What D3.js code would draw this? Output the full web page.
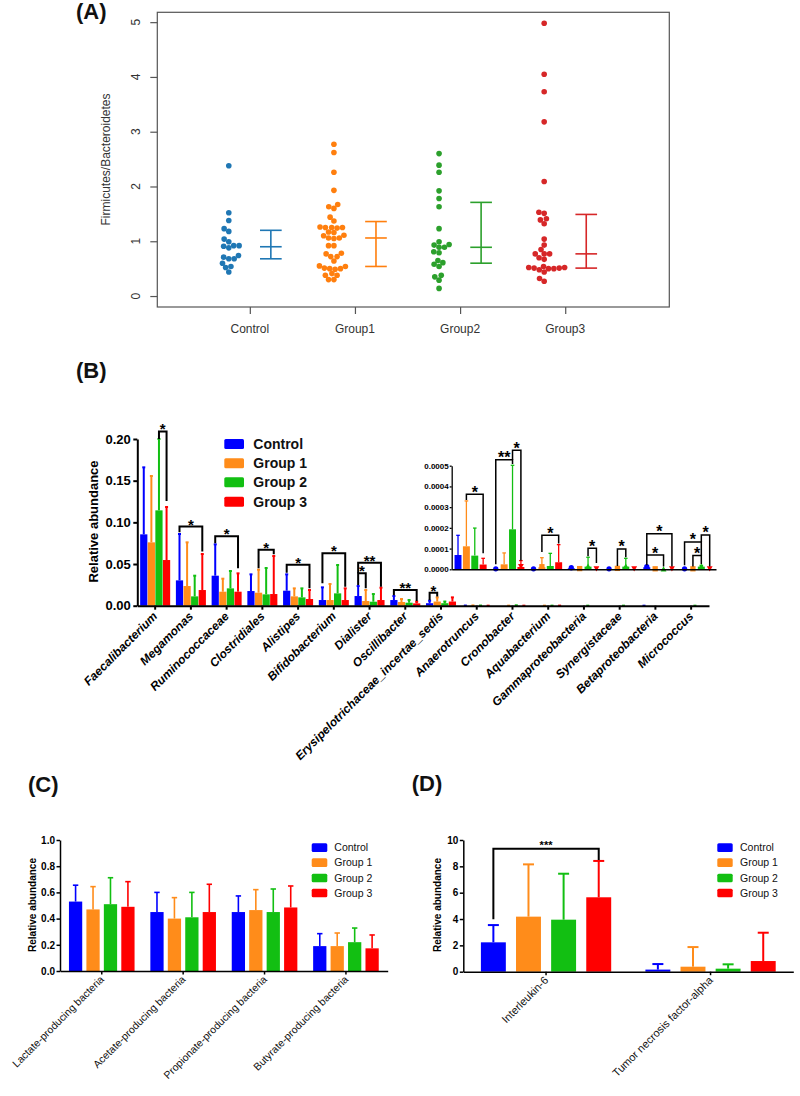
<!DOCTYPE html>
<html><head><meta charset="utf-8">
<script src="https://cdn.jsdelivr.net/npm/d3@7"></script>
<style>
body{margin:0;background:#fff}
svg{display:block}
text{font-family:Arial,"Liberation Sans",Helvetica,sans-serif}
</style>
</head><body>
<svg id="chart" width="800" height="1096"></svg>
<script>
// ================= DATA =================
// Panel A
const groupsA = ["Control", "Group1", "Group2", "Group3"];
const ratioControl = [2.38, 1.52, 1.38, 1.23, 1.18, 1.04, 0.99, 0.92, 0.91, 0.88, 0.92, 0.74, 0.71, 0.68, 0.68, 0.60, 0.54, 0.52, 0.44];
const ratioGroup1 = [2.77, 2.62, 2.26, 1.93, 1.67, 1.63, 1.60, 1.44, 1.37, 1.26, 1.25, 1.25, 1.24, 1.25, 1.17, 1.16, 1.11, 1.10, 1.06, 1.06, 1.05, 0.92, 0.92, 0.78, 0.77, 0.72, 0.72, 0.64, 0.55, 0.54, 0.51, 0.50, 0.50, 0.49, 0.41, 0.38, 0.38, 0.30, 0.30];
const ratioGroup2 = [2.60, 2.39, 2.26, 1.92, 1.78, 1.63, 1.23, 0.99, 0.94, 0.93, 0.89, 0.89, 0.81, 0.79, 0.65, 0.61, 0.58, 0.54, 0.38, 0.35, 0.29, 0.14];
const ratioGroup3 = [4.98, 4.05, 3.73, 3.18, 2.09, 1.53, 1.51, 1.41, 1.39, 1.32, 1.04, 0.93, 0.85, 0.77, 0.77, 0.77, 0.70, 0.67, 0.54, 0.52, 0.51, 0.50, 0.50, 0.51, 0.52, 0.48, 0.44, 0.32, 0.27];
const summaryLow = [0.68, 0.54, 0.60, 0.51];
const summaryMid = [0.90, 1.06, 0.89, 0.77];
const summaryHigh = [1.20, 1.36, 1.71, 1.49];
const ticksA = [0, 1, 2, 3, 4, 5];

// Panel B
const seriesNames = ["Control", "Group 1", "Group 2", "Group 3"];
const taxa = ["Faecalibacterium", "Megamonas", "Ruminococcaceae", "Clostridiales", "Alistipes", "Bifidobacterium", "Dialister", "Oscillibacter", "Erysipelotrichaceae_incertae_sedis", "Anaerotruncus", "Cronobacter", "Aquabacterium", "Gammaproteobacteria", "Synergistaceae", "Betaproteobacteria", "Micrococcus"];
const insetTaxa = ["Anaerotruncus", "Cronobacter", "Aquabacterium", "Gammaproteobacteria", "Synergistaceae", "Betaproteobacteria", "Micrococcus"];
const meanControl = [0.0856, 0.0304, 0.036, 0.0176, 0.018, 0.0068, 0.0116, 0.0068, 0.003, 0.000069, 0, 0, 0.000005, 0, 0.00001, 0];
const meanGroup1  = [0.076, 0.0236, 0.0168, 0.0156, 0.0112, 0.0068, 0.0056, 0.0044, 0.005, 0.000111, 0.000024, 0.00001, 0.000001, 0.000002, 0, 0];
const meanGroup2  = [0.1144, 0.0112, 0.0208, 0.0136, 0.010, 0.0148, 0.0048, 0.0036, 0.003, 0.000066, 0.000193, 0.000016, 0.000013, 0.000013, 0, 0.000013];
const meanGroup3  = [0.0548, 0.0188, 0.0168, 0.014, 0.008, 0.0068, 0.0068, 0.0028, 0.005, 0.000023, 0.000011, 0.000034, 0, 0, 0, 0];
const upperControl = [0.166, 0.086, 0.0736, 0.0376, 0.0376, 0.022, 0.0236, 0.0116, 0.006, 0.000164, 0, 0, 0.000005, 0, 0.000015, 0];
const upperGroup1  = [0.1556, 0.076, 0.0324, 0.0432, 0.0208, 0.026, 0.0188, 0.008, 0.010, 0.00033, 0.000079, 0.000056, 0.000001, 0.000002, 0, 0];
const upperGroup2  = [0.200, 0.036, 0.0416, 0.0452, 0.0208, 0.0488, 0.014, 0.0068, 0.005, 0.000199, 0.000502, 0.000077, 0.000058, 0.000053, 0, 0.000019];
const upperGroup3  = [0.1184, 0.062, 0.0388, 0.0596, 0.0188, 0.0208, 0.0216, 0.0048, 0.010, 0.000053, 0.000042, 0.000119, 0, 0, 0, 0];
const ticksBMain = [0, 0.05, 0.10, 0.15, 0.20];
const ticksBInset = [0, 0.0001, 0.0002, 0.0003, 0.0004, 0.0005];
// significance brackets: taxon, from-series, to-series, bracket top, left leg end, right leg end, label
const bracketsMain = [
  ["Faecalibacterium", 2, 3, 0.209, 0.200, 0.1256, "*"],
  ["Megamonas", 0, 3, 0.095, 0.088, 0.065, "*"],
  ["Ruminococcaceae", 0, 3, 0.0832, 0.075, 0.0448, "*"],
  ["Clostridiales", 1, 3, 0.0672, 0.0448, 0.0616, "*"],
  ["Alistipes", 0, 3, 0.0492, 0.0396, 0.0208, "*"],
  ["Bifidobacterium", 0, 3, 0.0628, 0.0268, 0.0228, "*"],
  ["Dialister", 0, 1, 0.0388, 0.0248, 0.0208, "*"],
  ["Dialister", 0, 3, 0.0516, 0.0388, 0.0228, "**"],
  ["Oscillibacter", 0, 3, 0.0188, 0.0124, 0.0056, "**"],
  ["Erysipelotrichaceae_incertae_sedis", 0, 1, 0.0156, 0.0068, 0.011, "*"]
];
const bracketsInset = [
  ["Anaerotruncus", 1, 3, 0.000362, 0.000335, 0.000078, "*"],
  ["Cronobacter", 0, 2, 0.000529, 0.000024, 0.000508, "**"],
  ["Cronobacter", 2, 3, 0.000574, 0.000529, 0.000043, "*"],
  ["Aquabacterium", 1, 3, 0.000164, 0.000084, 0.000124, "*"],
  ["Gammaproteobacteria", 2, 3, 0.000102, 0.000063, 0.00003, "*"],
  ["Synergistaceae", 1, 2, 0.000098, 0.000016, 0.000058, "*"],
  ["Betaproteobacteria", 0, 2, 0.000069, 0.00002, 0.000013, "*"],
  ["Betaproteobacteria", 0, 3, 0.000171, 0.000069, 0.000013, "*"],
  ["Micrococcus", 1, 2, 0.000066, 0.000013, 0.000025, "*"],
  ["Micrococcus", 0, 2, 0.000132, 0.00002, 0.000066, "*"],
  ["Micrococcus", 2, 3, 0.000166, 0.000132, 0.000013, "*"]
];

// Panel C
const producers = ["Lactate-producing bacteria", "Acetate-producing bacteria", "Propionate-producing bacteria", "Butyrate-producing bacteria"];
const prodMean = [
  [0.53, 0.45, 0.45, 0.19],
  [0.47, 0.40, 0.465, 0.19],
  [0.51, 0.41, 0.45, 0.22],
  [0.49, 0.45, 0.485, 0.173]
];
const prodUpper = [
  [0.655, 0.60, 0.573, 0.285],
  [0.644, 0.56, 0.621, 0.29],
  [0.712, 0.60, 0.626, 0.328],
  [0.682, 0.662, 0.649, 0.275]
];
const ticksC = [0, 0.2, 0.4, 0.6, 0.8, 1.0];

// Panel D
const cytokines = ["Interleukin-6", "Tumor necrosis factor-alpha"];
const cytoMean = [[2.23, 0.16], [4.18, 0.38], [3.95, 0.23], [5.65, 0.81]];
const cytoUpper = [[3.54, 0.58], [8.15, 1.87], [7.44, 0.56], [8.41, 2.96]];
const ticksD = [0, 2, 4, 6, 8, 10];
const bracketD = ["Interleukin-6", 0, 3, 9.34, 3.98, 8.48, "***"];

// ================= STYLE =================
const colA = ["#1f77b4", "#ff7f0e", "#2ca02c", "#d62728"];
const colB = ["#0000ff", "#ff8c1a", "#12bf12", "#ff0000"];

const svg = d3.select("#chart");

function panelLabel(t, x, y) {
  svg.append("text").attr("x", x).attr("y", y).text(t)
    .attr("font-size", 22).attr("font-weight", "bold").attr("fill", "#111");
}

// ================= PANEL A =================
(function () {
  const g = svg.append("g");
  const x = d3.scaleLinear().domain([0.12, 4.99]).range([157.3, 669.3]);
  const y = d3.scaleLinear().domain([-0.2, 5.18]).range([307, 12.3]);
  const axisCol = "#555";
  g.append("rect").attr("x", x.range()[0]).attr("y", y.range()[1])
    .attr("width", x.range()[1] - x.range()[0]).attr("height", y.range()[0] - y.range()[1])
    .attr("fill", "none").attr("stroke", axisCol).attr("stroke-width", 1.2);
  const ya = g.append("g").attr("transform", `translate(${x.range()[0]},0)`)
    .call(d3.axisLeft(y).tickValues(ticksA).tickSize(7).tickFormat(""));
  ya.select(".domain").remove();
  ya.selectAll("line").attr("stroke", axisCol).attr("stroke-width", 1.2);
  g.selectAll(".ytl").data(ticksA).join("text")
    .attr("transform", d => `translate(139.5,${y(d)}) rotate(-90)`)
    .attr("text-anchor", "middle").attr("font-size", 12).attr("fill", "#333").text(d => d);
  const xa = g.append("g").attr("transform", `translate(0,${y.range()[0]})`)
    .call(d3.axisBottom(x).tickValues([1, 2, 3, 4]).tickSize(7).tickFormat(""));
  xa.select(".domain").remove();
  xa.selectAll("line").attr("stroke", axisCol).attr("stroke-width", 1.2);
  g.selectAll(".xtl").data(groupsA).join("text")
    .attr("x", (d, i) => x(i + 1)).attr("y", 333)
    .attr("text-anchor", "middle").attr("font-size", 12).attr("fill", "#333").text(d => d);
  g.append("text").attr("transform", `translate(110,159.5) rotate(-90)`)
    .attr("text-anchor", "middle").attr("font-size", 12).attr("fill", "#333")
    .text("Firmicutes/Bacteroidetes");

  // beeswarm layout (swarm, ascending priority)
  const dotD = 5.4;
  function swarm(values) {
    const pts = values.map(v => ({ v, py: y(v), dx: 0 }));
    const order = pts.slice().sort((a, b) => a.v - b.v);
    const placed = [];
    for (const p of order) {
      const near = placed.filter(q => Math.abs(q.py - p.py) < dotD);
      let cands = [0];
      near.forEach(q => {
        const h = Math.sqrt(dotD * dotD - (q.py - p.py) ** 2);
        cands.push(q.dx + h, q.dx - h);
      });
      cands.sort((a, b) => Math.abs(a) - Math.abs(b) || a - b);
      for (const c of cands) {
        const ok = near.every(q => Math.hypot(q.dx - c, q.py - p.py) >= dotD - 1e-6);
        if (ok) { p.dx = c; break; }
      }
      placed.push(p);
    }
    return pts;
  }
  const allRatios = [ratioControl, ratioGroup1, ratioGroup2, ratioGroup3];
  allRatios.forEach((vals, i) => {
    const cx = x(i + 1 - 0.2);
    const pts = swarm(vals);
    g.append("g").selectAll("circle").data(pts).join("circle")
      .attr("cx", d => cx + d.dx).attr("cy", d => d.py).attr("r", 2.8).attr("fill", colA[i]);
    const ex = x(i + 1 + 0.2), hw = x(1.103) - x(1);
    const eg = g.append("g").attr("stroke", colA[i]).attr("stroke-width", 1.6);
    eg.append("line").attr("x1", ex).attr("x2", ex).attr("y1", y(summaryLow[i])).attr("y2", y(summaryHigh[i]));
    [summaryLow[i], summaryMid[i], summaryHigh[i]].forEach(v => {
      eg.append("line").attr("x1", ex - hw).attr("x2", ex + hw).attr("y1", y(v)).attr("y2", y(v));
    });
  });
  panelLabel("(A)", 76, 19);
})();

// ================= helpers for GraphPad-style bars =================
function styleAxis(sel, w) {
  sel.select(".domain").attr("stroke", "#000").attr("stroke-width", w);
  sel.selectAll(".tick line").attr("stroke", "#000").attr("stroke-width", w);
}
function drawGroupedBars(g, cats, means, uppers, x, sub, y, opt) {
  cats.forEach((c, ci) => {
    for (let s = 0; s < 4; s++) {
      const m = means[s][ci], u = uppers[s][ci];
      const bx = x(c) + sub(s), bw = sub.bandwidth(), cx = bx + bw / 2;
      const y0 = y(0), ym = y(m);
      if (y0 - ym > 0.05) {
        g.append("rect").attr("x", bx).attr("y", ym).attr("width", bw).attr("height", y0 - ym).attr("fill", colB[s]);
      }
      if (u > m) {
        g.append("line").attr("x1", cx).attr("x2", cx).attr("y1", ym).attr("y2", y(u))
          .attr("stroke", colB[s]).attr("stroke-width", opt.ew);
        g.append("line").attr("x1", cx - opt.cap).attr("x2", cx + opt.cap).attr("y1", y(u)).attr("y2", y(u))
          .attr("stroke", colB[s]).attr("stroke-width", opt.ew);
      }
      if (opt.markers && y0 - ym < 3) {
        const r = bw * 0.38, yy = ym - 0.5;
        if (s === 0) g.append("circle").attr("cx", cx).attr("cy", yy).attr("r", r).attr("fill", colB[s]);
        else if (s === 1) g.append("rect").attr("x", cx - r).attr("y", yy - r).attr("width", 2 * r).attr("height", 2 * r).attr("fill", colB[s]);
        else if (s === 2) g.append("path").attr("d", `M${cx - r * 1.1},${yy + r}L${cx + r * 1.1},${yy + r}L${cx},${yy - r}Z`).attr("fill", colB[s]);
        else g.append("path").attr("d", `M${cx - r * 1.1},${yy - r}L${cx + r * 1.1},${yy - r}L${cx},${yy + r}Z`).attr("fill", colB[s]);
      }
    }
  });
}
function drawBracket(g, b, x, sub, y, opt) {
  const [c, s1, s2, top, l1, l2, lab] = b;
  const x1 = x(c) + sub(s1) + sub.bandwidth() / 2;
  const x2 = x(c) + sub(s2) + sub.bandwidth() / 2;
  g.append("path").attr("d", `M${x1},${y(l1)}L${x1},${y(top)}L${x2},${y(top)}L${x2},${y(l2)}`)
    .attr("fill", "none").attr("stroke", "#000").attr("stroke-width", opt.w);
  g.append("text").attr("x", (x1 + x2) / 2).attr("y", y(top) + opt.dy)
    .attr("text-anchor", "middle").attr("font-size", opt.fs).attr("font-weight", "bold").text(lab);
}
function legend(g, x0, ys, sw, sh, tx, fs, fw) {
  seriesNames.forEach((n, i) => {
    g.append("rect").attr("x", x0).attr("y", ys[i] - sh / 2).attr("width", sw).attr("height", sh)
      .attr("rx", 1.5).attr("fill", colB[i]);
    g.append("text").attr("x", tx).attr("y", ys[i]).attr("dy", "0.35em").attr("font-size", fs)
      .attr("font-weight", fw).attr("fill", "#111").text(n);
  });
}

// ================= PANEL B =================
(function () {
  const g = svg.append("g");
  const means = [meanControl, meanGroup1, meanGroup2, meanGroup3];
  const uppers = [upperControl, upperGroup1, upperGroup2, upperGroup3];
  const x = d3.scaleBand().domain(taxa).range([137.3, 709]).paddingInner(0.16).paddingOuter(0.08);
  const sub = d3.scaleBand().domain([0, 1, 2, 3]).range([0, x.bandwidth()]).paddingInner(0.05);
  const y = d3.scaleLinear().domain([0, 0.20]).range([605.7, 439]);
  drawGroupedBars(g, taxa, means, uppers, x, sub, y, { ew: 2, cap: 1.5, markers: false });
  bracketsMain.forEach(b => drawBracket(g, b, x, sub, y, { w: 2, fs: 15, dy: 3 }));
  const ya = g.append("g").attr("transform", "translate(137.3,0)")
    .call(d3.axisLeft(y).tickValues(ticksBMain).tickSize(4).tickSizeOuter(0).tickPadding(2.5).tickFormat(d3.format(".2f")));
  styleAxis(ya, 2);
  ya.selectAll("text").attr("font-size", 13).attr("font-weight", "bold").attr("fill", "#000");
  const xa = g.append("g").attr("transform", "translate(0,605.7)")
    .call(d3.axisBottom(x).tickSize(4).tickSizeOuter(0).tickFormat(""));
  styleAxis(xa, 2);
  g.selectAll(".xl").data(taxa).join("text")
    .attr("transform", d => `translate(${x(d) + x.bandwidth() / 2 + 3},617) rotate(-45)`)
    .attr("text-anchor", "end").attr("font-size", 12).attr("font-weight", "bold").attr("font-style", "italic")
    .text(d => d);
  g.append("text").attr("transform", "translate(93,521.5) rotate(-90)").attr("dy", "0.35em")
    .attr("text-anchor", "middle").attr("font-size", 13).attr("font-weight", "bold").text("Relative abundance");
  legend(g, 224.3, [444, 463.3, 482.3, 501.7], 19.7, 10, 253.3, 14, "bold");

  // inset
  const gi = svg.append("g");
  const xi = d3.scaleBand().domain(insetTaxa).range([451.7, 716]).paddingInner(0.15).paddingOuter(0.075);
  const subi = d3.scaleBand().domain([0, 1, 2, 3]).range([0, xi.bandwidth()]).paddingInner(0.17);
  const yi = d3.scaleLinear().domain([0, 0.0005]).range([569.3, 465.7]);
  const off = taxa.indexOf(insetTaxa[0]);
  const mi = means.map(a => a.slice(off)), ui = uppers.map(a => a.slice(off));
  drawGroupedBars(gi, insetTaxa, mi, ui, xi, subi, yi, { ew: 1.3, cap: 1.8, markers: true });
  bracketsInset.forEach(b => drawBracket(gi, b, xi, subi, yi, { w: 1.5, fs: 16, dy: 3.5 }));
  const yia = gi.append("g").attr("transform", "translate(451.7,0)")
    .call(d3.axisLeft(yi).tickValues(ticksBInset).tickSize(2).tickSizeOuter(0).tickPadding(1).tickFormat(d3.format(".4f")));
  styleAxis(yia, 1.3);
  yia.selectAll("text").attr("font-size", 8).attr("font-weight", "bold").attr("fill", "#000");
  const xia = gi.append("g").attr("transform", "translate(0,569.3)")
    .call(d3.axisBottom(xi).tickSize(0).tickSizeOuter(0).tickFormat(""));
  styleAxis(xia, 1.5);
  panelLabel("(B)", 76, 377.5);
})();

// ================= PANEL C =================
(function () {
  const g = svg.append("g");
  const x = d3.scaleBand().domain(producers).range([60, 387.7]).paddingInner(0.194).paddingOuter(0.11);
  const sub = d3.scaleBand().domain([0, 1, 2, 3]).range([0, x.bandwidth()]).paddingInner(0.24);
  const y = d3.scaleLinear().domain([0, 1]).range([971, 840]);
  drawGroupedBars(g, producers, prodMean, prodUpper, x, sub, y, { ew: 1.6, cap: 2.7, markers: false });
  const ya = g.append("g").attr("transform", "translate(60,0)")
    .call(d3.axisLeft(y).tickValues(ticksC).tickSize(3.5).tickSizeOuter(0).tickPadding(1.5).tickFormat(d3.format(".1f")));
  styleAxis(ya, 1.5);
  ya.selectAll("text").attr("font-size", 10).attr("font-weight", "bold").attr("fill", "#000");
  const xa = g.append("g").attr("transform", "translate(0,971)")
    .call(d3.axisBottom(x).tickSize(3.5).tickSizeOuter(0).tickFormat(""));
  styleAxis(xa, 1.5);
  g.selectAll(".xl").data(producers).join("text")
    .attr("transform", d => `translate(${x(d) + x.bandwidth() / 2 + 3},980) rotate(-45)`)
    .attr("text-anchor", "end").attr("font-size", 10.5).attr("fill", "#111").text(d => d);
  g.append("text").attr("transform", "translate(32.7,905) rotate(-90)").attr("dy", "0.35em")
    .attr("text-anchor", "middle").attr("font-size", 10).attr("font-weight", "bold").text("Relative abundance");
  legend(g, 311.7, [847.7, 862.7, 878, 893], 15.6, 8.7, 334.3, 10.5, "normal");
  panelLabel("(C)", 28, 792);
})();

// ================= PANEL D =================
(function () {
  const g = svg.append("g");
  const x = d3.scaleBand().domain(cytokines).range([463.3, 793.3]).paddingInner(0.208).paddingOuter(0.107);
  const sub = d3.scaleBand().domain([0, 1, 2, 3]).range([0, x.bandwidth()]).paddingInner(0.29);
  const y = d3.scaleLinear().domain([0, 10]).range([971.7, 840]);
  drawGroupedBars(g, cytokines, cytoMean, cytoUpper, x, sub, y, { ew: 2, cap: 5.5, markers: false });
  drawBracket(g, bracketD, x, sub, y, { w: 2, fs: 11, dy: 0.5 });
  const ya = g.append("g").attr("transform", "translate(463.3,0)")
    .call(d3.axisLeft(y).tickValues(ticksD).tickSize(3.5).tickSizeOuter(0).tickPadding(1.5).tickFormat(d3.format("d")));
  styleAxis(ya, 1.5);
  ya.selectAll("text").attr("font-size", 10).attr("font-weight", "bold").attr("fill", "#000");
  const xa = g.append("g").attr("transform", "translate(0,971.7)")
    .call(d3.axisBottom(x).tickSize(3.5).tickSizeOuter(0).tickFormat(""));
  styleAxis(xa, 1.5);
  g.selectAll(".xl").data(cytokines).join("text")
    .attr("transform", d => `translate(${x(d) + x.bandwidth() / 2 + 3},981) rotate(-45)`)
    .attr("text-anchor", "end").attr("font-size", 11).attr("fill", "#111").text(d => d);
  g.append("text").attr("transform", "translate(437.7,905) rotate(-90)").attr("dy", "0.35em")
    .attr("text-anchor", "middle").attr("font-size", 10).attr("font-weight", "bold").text("Relative abundance");
  legend(g, 717.3, [847.7, 862.7, 878, 893], 15.4, 8.7, 740, 10.5, "normal");
  panelLabel("(D)", 411.7, 791);
})();
</script>
</body></html>
